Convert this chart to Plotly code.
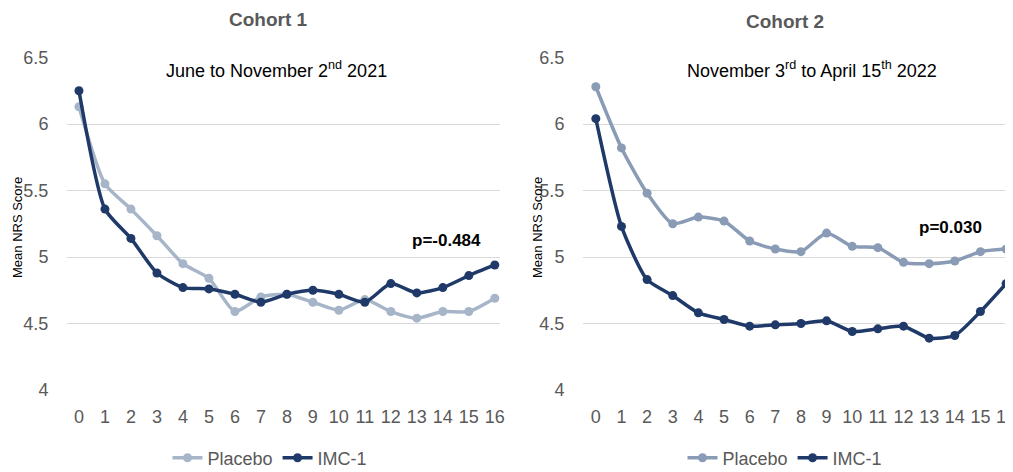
import plotly.graph_objects as go

weeks = list(range(17))
week_labels = [str(w) for w in weeks]

c1_placebo = [6.13, 5.55, 5.36, 5.16, 4.95, 4.84, 4.59, 4.70, 4.72, 4.66, 4.60, 4.68, 4.59, 4.54, 4.59, 4.59, 4.69]
c1_imc = [6.25, 5.36, 5.14, 4.88, 4.77, 4.76, 4.72, 4.66, 4.72, 4.75, 4.72, 4.66, 4.80, 4.73, 4.77, 4.86, 4.94]
c2_placebo = [6.28, 5.82, 5.48, 5.25, 5.30, 5.27, 5.12, 5.06, 5.04, 5.18, 5.08, 5.07, 4.96, 4.95, 4.97, 5.04, 5.06]
c2_imc = [6.04, 5.23, 4.83, 4.71, 4.58, 4.53, 4.48, 4.49, 4.50, 4.52, 4.44, 4.46, 4.48, 4.39, 4.41, 4.59, 4.80]

y_ticks = [4, 4.5, 5, 5.5, 6, 6.5]
y_tick_labels = ["4", "4.5", "5", "5.5", "6", "6.5"]

# page has an 8px body margin; figure coordinates = page coordinates - 8
OFF = 8
W, H = 1013 - OFF, 472 - OFF
FONT = "Liberation Sans Narrow, Liberation Sans, sans-serif"
GRAY = "#595959"
NAVY = "#1f3a68"
PL1 = "#a7b5c9"
PL2 = "#8a9bb6"


def px(x):
    return (x - OFF) / W


def py(y):
    return 1 - (y - OFF) / H


fig = go.Figure()


def add(x, y, name, color, xa, ya, legend):
    fig.add_trace(go.Scatter(
        x=x, y=y, name=name, mode="lines+markers",
        line=dict(color=color, width=3.5, shape="spline", smoothing=0.6),
        marker=dict(color=color, size=9),
        xaxis=xa, yaxis=ya, legend=legend))


add(weeks, c1_placebo, "Placebo", PL1, "x", "y", "legend")
add(weeks, c1_imc, "IMC-1", NAVY, "x", "y", "legend")
add(weeks, c2_placebo, "Placebo", PL2, "x2", "y2", "legend2")
add(weeks, c2_imc, "IMC-1", NAVY, "x2", "y2", "legend2")

ydom = [py(390), py(57.5)]
common_y = dict(range=[4, 6.5], tickvals=y_ticks, ticktext=y_tick_labels, automargin=False,
                showgrid=True, gridcolor="#d9d9d9", gridwidth=1, zeroline=False,
                showline=False, ticks="outside", ticklen=14, tickcolor="rgba(0,0,0,0)",
                tickfont=dict(family=FONT, size=18, color=GRAY), domain=ydom)
common_x = dict(tickvals=weeks, ticktext=week_labels, showgrid=False, zeroline=False,
                showline=False, ticks="outside", ticklen=10, tickcolor="rgba(0,0,0,0)",
                automargin=False, ticklabeloverflow="allow",
                tickfont=dict(family=FONT, size=18, color=GRAY))

fig.update_layout(
    width=W, height=H,
    margin=dict(l=0, r=0, t=0, b=0, autoexpand=False),
    paper_bgcolor="white", plot_bgcolor="white",
    xaxis=dict(common_x, domain=[px(67), px(500)], range=[-0.46, 16.2]),
    xaxis2=dict(common_x, domain=[px(583), 1.0], range=[-0.5, 16.27], anchor="y2"),
    yaxis=dict(common_y, anchor="x"),
    yaxis2=dict(common_y, anchor="x2"),
    legend=dict(orientation="h", x=px(270), y=py(458), xanchor="center", yanchor="middle",
                font=dict(family=FONT, size=18, color=GRAY), itemwidth=30, bgcolor="rgba(0,0,0,0)"),
    legend2=dict(orientation="h", x=px(785), y=py(458), xanchor="center", yanchor="middle",
                 font=dict(family=FONT, size=18, color=GRAY), itemwidth=30, bgcolor="rgba(0,0,0,0)"),
)


def ann(text, x, y, size, color, bold=False, angle=0, family=FONT):
    fig.add_annotation(text=("<b>%s</b>" % text) if bold else text, x=px(x), y=py(y),
                       xref="paper", yref="paper", showarrow=False, textangle=angle,
                       xanchor="center", yanchor="middle",
                       font=dict(family=family, size=size, color=color))


ann("Cohort 1", 268, 20, 19, GRAY, bold=True)
ann("Cohort 2", 785, 21, 19, GRAY, bold=True)
ann("June to November 2<sup>nd</sup> 2021", 276, 70, 18, "#000000")
ann("November 3<sup>rd</sup> to April 15<sup>th</sup> 2022", 812, 70, 18, "#000000")
ann("p=-0.484", 446, 240, 17, "#000000", bold=True)
ann("p=0.030", 950, 227, 17, "#000000", bold=True)
ann("Mean NRS Score", 17, 228, 13, "#000000", angle=-90, family="Liberation Sans, sans-serif")
ann("Mean NRS Score", 537, 228, 13, "#000000", angle=-90, family="Liberation Sans, sans-serif")

fig.write_html("out.html")
